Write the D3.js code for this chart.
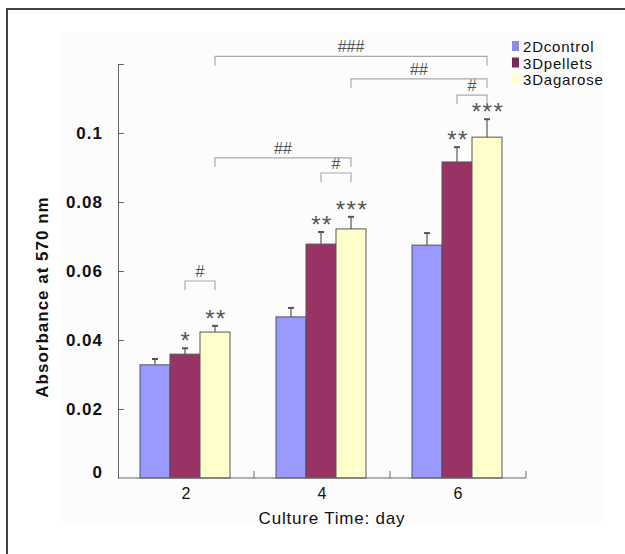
<!DOCTYPE html>
<html>
<head>
<meta charset="utf-8">
<script src="https://cdn.jsdelivr.net/npm/d3@7"></script>
<style>
  body { margin: 0; background: #fff; }
  svg text { font-family: "Liberation Sans", Arial, sans-serif; }
</style>
</head>
<body>
<div id="chart"><svg></svg></div>
<script>
// data
var days = ["2", "4", "6"];
var seriesNames = ["2Dcontrol", "3Dpellets", "3Dagarose"];
var control2D = [0.0328, 0.0467, 0.0675];
var pellets3D = [0.0359, 0.0678, 0.0916];
var agarose3D = [0.0423, 0.0722, 0.0988];
var errControl = [0.0017, 0.0026, 0.0035];
var errPellets = [0.0017, 0.0035, 0.0043];
var errAgarose = [0.0018, 0.0035, 0.0052];
var starsControl = ["", "", ""];
var starsPellets = ["*", "**", "**"];
var starsAgarose = ["**", "***", "***"];
var yTicks = [0, 0.02, 0.04, 0.06, 0.08, 0.1, 0.12];
var colors = ["#9999ff", "#993366", "#ffffcc"];
var legendColors = ["#8c8ce6", "#7a2a52", "#ffffd0"];

// significance brackets: [day, series] -> [day, series], label, level
var brackets = [
    { from: ["2", "3Dpellets"], to: ["2", "3Dagarose"], label: "#", level: 0.0571 },
    { from: ["4", "3Dpellets"], to: ["4", "3Dagarose"], label: "#", level: 0.0884 },
    { from: ["2", "3Dagarose"], to: ["4", "3Dagarose"], label: "##", level: 0.0928 },
    { from: ["6", "3Dpellets"], to: ["6", "3Dagarose"], label: "#", level: 0.111 },
    { from: ["4", "3Dagarose"], to: ["6", "3Dagarose"], label: "##", level: 0.1157 },
    { from: ["2", "3Dagarose"], to: ["6", "3Dagarose"], label: "###", level: 0.1222 }
];

var values = [control2D, pellets3D, agarose3D];
var errors = [errControl, errPellets, errAgarose];
var stars = [starsControl, starsPellets, starsAgarose];

var svg = d3.select("#chart svg").attr("width", 625).attr("height", 554);

// faint plot background + frame
svg.append("rect").attr("x", 60).attr("y", 32).attr("width", 544).attr("height", 490)
    .attr("fill", "#fcfcfc");
svg.append("rect").attr("x", 7).attr("y", 9).attr("width", 660).attr("height", 600)
    .attr("fill", "none").attr("stroke", "#444").attr("stroke-width", 2);

var x0 = d3.scaleBand().domain(days).range([118, 526]);
var x1 = d3.scaleBand().domain(seriesNames).range([22, 112]);
var y = d3.scaleLinear().domain([0, 0.12]).range([478, 64]);

var rows = [];
days.forEach(function(d, i) {
    seriesNames.forEach(function(s, j) {
        rows.push({ day: d, series: s, idx: j, value: values[j][i], err: errors[j][i], star: stars[j][i] });
    });
});

function cx(day, series) {
    return x0(day) + x1(series) + x1.bandwidth() / 2;
}

// y axis, ticks pointing inward
var yAxis = svg.append("g")
    .attr("transform", "translate(118,0)")
    .call(d3.axisLeft(y).tickValues(yTicks).tickSize(-6).tickSizeOuter(0).tickPadding(15)
        .tickFormat(function(d) { return d === 0.12 ? "" : d3.format("")(d); }));
yAxis.select(".domain").attr("stroke", "#666");
yAxis.selectAll(".tick line").attr("stroke", "#666")
    .filter(function(d) { return d === 0; }).remove();
yAxis.selectAll(".tick text")
    .attr("fill", "#111").style("font-size", "17px").style("font-weight", "bold")
    .style("letter-spacing", "1px")
    .attr("dy", function(d) { return d === 0 ? "-0.05em" : "0.32em"; });

svg.append("text")
    .attr("transform", "translate(48,297) rotate(-90)")
    .attr("text-anchor", "middle")
    .style("font-size", "17px").style("font-weight", "bold").style("letter-spacing", "1px")
    .attr("fill", "#111")
    .text("Absorbance at 570 nm");

// bars
svg.append("g").selectAll("rect")
    .data(rows).enter().append("rect")
    .attr("x", function(d) { return x0(d.day) + x1(d.series); })
    .attr("y", function(d) { return y(d.value); })
    .attr("width", x1.bandwidth())
    .attr("height", function(d) { return y(0) - y(d.value); })
    .attr("fill", function(d) { return colors[d.idx]; })
    .attr("stroke", "#555").attr("stroke-width", 1);

// error bars
var eb = svg.append("g").attr("stroke", "#555").attr("stroke-width", 1.2);
eb.selectAll("line.v").data(rows).enter().append("line")
    .attr("x1", function(d) { return cx(d.day, d.series); })
    .attr("x2", function(d) { return cx(d.day, d.series); })
    .attr("y1", function(d) { return y(d.value); })
    .attr("y2", function(d) { return y(d.value + d.err); });
eb.selectAll("line.c").data(rows).enter().append("line")
    .attr("x1", function(d) { return cx(d.day, d.series) - 3; })
    .attr("x2", function(d) { return cx(d.day, d.series) + 3; })
    .attr("y1", function(d) { return y(d.value + d.err); })
    .attr("y2", function(d) { return y(d.value + d.err); })
    .attr("stroke-width", 2);

// asterisks
svg.append("g").selectAll("text")
    .data(rows.filter(function(d) { return d.star; })).enter().append("text")
    .attr("x", function(d) { return cx(d.day, d.series) + 1; })
    .attr("y", function(d) { return y(d.value + d.err) + 1; })
    .attr("text-anchor", "middle")
    .style("font-size", "24px").style("letter-spacing", "1.5px").attr("fill", "#555")
    .text(function(d) { return d.star; });

// brackets
var br = svg.append("g");
brackets.forEach(function(b) {
    var xa = cx(b.from[0], b.from[1]), xb = cx(b.to[0], b.to[1]), yy = y(b.level);
    br.append("path")
        .attr("d", "M" + xa + "," + (yy + 9) + "V" + yy + "H" + xb + "V" + (yy + 9))
        .attr("fill", "none").attr("stroke", "#aaa").attr("stroke-width", 1.2);
    br.append("text")
        .attr("x", (xa + xb) / 2).attr("y", yy - 4)
        .attr("text-anchor", "middle")
        .style("font-size", "16px").attr("fill", "#555")
        .text(b.label);
});

// x axis
var xg = svg.append("g");
xg.append("line").attr("x1", 118).attr("x2", 526).attr("y1", y(0)).attr("y2", y(0))
    .attr("stroke", "#666");
xg.selectAll("line.t").data(days).enter().append("line")
    .attr("x1", function(d) { return x0(d) + x0.bandwidth(); })
    .attr("x2", function(d) { return x0(d) + x0.bandwidth(); })
    .attr("y1", y(0)).attr("y2", y(0) - 7)
    .attr("stroke", "#666");
xg.selectAll("text").data(days).enter().append("text")
    .attr("x", function(d) { return x0(d) + x0.bandwidth() / 2; })
    .attr("y", 499)
    .attr("text-anchor", "middle")
    .style("font-size", "16px").attr("fill", "#111")
    .text(function(d) { return d; });

svg.append("text")
    .attr("x", 332).attr("y", 524)
    .attr("text-anchor", "middle")
    .style("font-size", "17px").style("letter-spacing", "0.8px").attr("fill", "#111")
    .text("Culture Time: day");

// legend
var lg = svg.append("g").selectAll("g")
    .data(seriesNames).enter().append("g")
    .attr("transform", function(d, i) { return "translate(512," + (47 + i * 16.5) + ")"; });
lg.append("rect").attr("x", 0).attr("y", -6).attr("width", 7).attr("height", 10)
    .attr("fill", function(d, i) { return legendColors[i]; });
lg.append("text").attr("x", 11).attr("y", 5)
    .style("font-size", "15px").style("letter-spacing", "0.8px").attr("fill", "#111")
    .text(function(d) { return d; });
</script>
</body>
</html>
